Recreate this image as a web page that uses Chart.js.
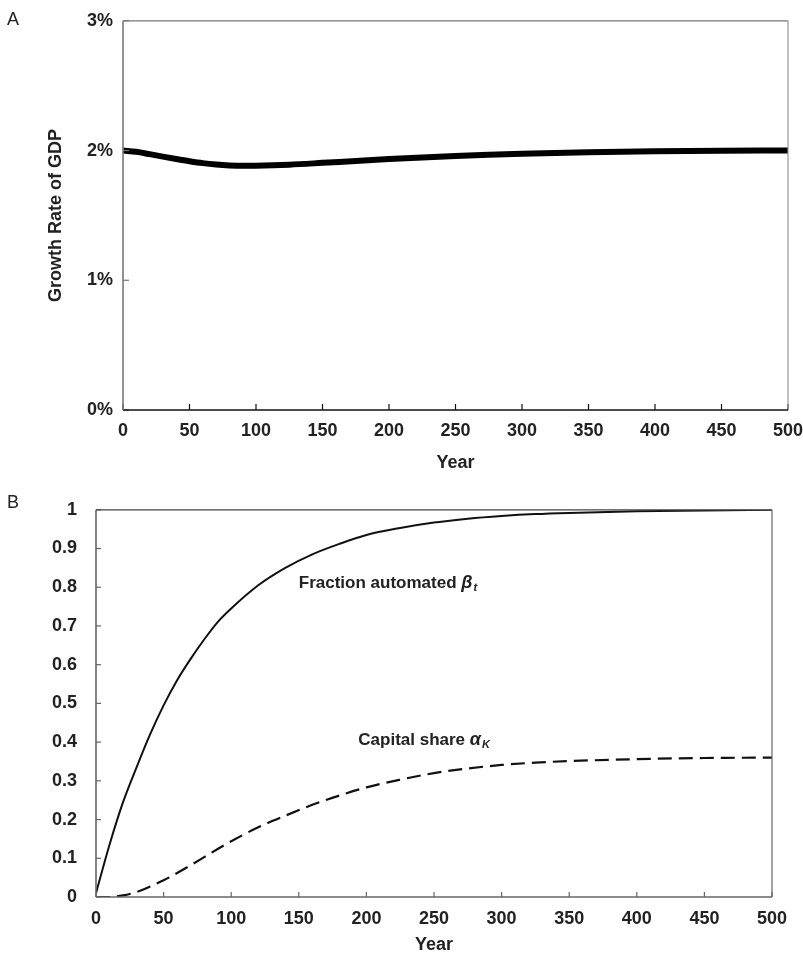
<!DOCTYPE html>
<html>
<head>
<meta charset="UTF-8">
<title>GDP growth and automation</title>
<script src="https://cdn.jsdelivr.net/npm/chart.js"></script>
<style>
    html, body { margin: 0; padding: 0; background: #fff; }
    #wrap { position: relative; width: 803px; height: 956px; }
    canvas { position: absolute; left: 0; }
    #chartA { top: 0; }
    #chartB { top: 480px; }
    .panel { position: absolute; left: 7px; font: 18px "Liberation Sans", Arial, sans-serif; color: #222; line-height: 20px; }
</style>
</head>
<body>
<div id="wrap">
    <canvas id="chartA" width="803" height="480"></canvas>
    <canvas id="chartB" width="803" height="476"></canvas>
    <div class="panel" style="top:9px">A</div>
    <div class="panel" style="top:492px">B</div>
</div>

<script>
    // panel A: growth rate of GDP (percent)
    const yearsA = [0, 10, 20, 30, 40, 50, 60, 70, 80, 90, 100, 125, 150, 175, 200, 225, 250, 275, 300, 350, 400, 450, 500];
    const gdpGrowth = [2.0, 1.99, 1.972, 1.953, 1.935, 1.918, 1.903, 1.892, 1.885, 1.882, 1.883, 1.891, 1.905, 1.92, 1.934, 1.947, 1.958, 1.967, 1.975, 1.987, 1.995, 1.999, 2.0];

    // panel B: fraction automated and capital share
    const yearsB = [0, 10, 20, 30, 40, 50, 60, 70, 80, 90, 100, 120, 140, 160, 180, 200, 225, 250, 275, 300, 325, 350, 400, 450, 500];
    const fractionAutomated = [0.01, 0.135, 0.245, 0.335, 0.42, 0.495, 0.56, 0.615, 0.665, 0.71, 0.745, 0.805, 0.85, 0.885, 0.912, 0.935, 0.953, 0.967, 0.977, 0.984, 0.989, 0.992, 0.996, 0.998, 1.0];
    const capitalShare = [0, 0.0, 0.004, 0.013, 0.027, 0.043, 0.062, 0.082, 0.103, 0.124, 0.144, 0.18, 0.21, 0.238, 0.262, 0.283, 0.303, 0.32, 0.332, 0.341, 0.347, 0.351, 0.356, 0.359, 0.36];

    const yTicksA = ['0%', '1%', '2%', '3%'];

    const FONT = '"Liberation Sans", Arial, sans-serif';
    Chart.defaults.font.family = FONT;
    Chart.defaults.color = '#222';

    function toPoints(xs, ys) {
        return xs.map((x, i) => ({ x: x, y: ys[i] }));
    }

    // frame round the plot area and short inward tick marks
    const framePlugin = {
        id: 'frame',
        afterDatasetsDraw(chart, args, opts) {
            const { ctx, chartArea: a } = chart;
            const line = (x1, y1, x2, y2, c, w) => {
                ctx.strokeStyle = c;
                ctx.lineWidth = w;
                ctx.beginPath();
                ctx.moveTo(x1, y1);
                ctx.lineTo(x2, y2);
                ctx.stroke();
            };
            ctx.save();
            const xs = chart.scales.x, ys = chart.scales.y;
            xs.ticks.forEach((t, i) => {
                const px = xs.getPixelForTick(i);
                line(px, a.bottom, px, a.bottom - opts.tickLen, opts.bottom, 1.2);
            });
            ys.ticks.forEach((t, i) => {
                const py = ys.getPixelForTick(i);
                line(a.left, py, a.left + opts.tickLen, py, opts.left, 1.2);
            });
            line(a.left, a.top, a.right, a.top, opts.top, 1.2);
            line(a.right, a.top, a.right, a.bottom, opts.right, 1.2);
            line(a.left, a.bottom, a.right, a.bottom, opts.bottom, 1.6);
            line(a.left, a.top, a.left, a.bottom, opts.left, 1.6);
            ctx.restore();
        }
    };

    // curve names in panel B
    const curveLabels = {
        id: 'curveLabels',
        afterDatasetsDraw(chart, args, opts) {
            if (!opts.items) return;
            const { ctx } = chart;
            const xs = chart.scales.x, ys = chart.scales.y;
            ctx.save();
            ctx.fillStyle = '#222';
            ctx.textBaseline = 'middle';
            ctx.textAlign = 'left';
            opts.items.forEach(it => {
                let x = xs.getPixelForValue(it.x);
                const y = ys.getPixelForValue(it.y);
                ctx.font = 'bold 17px ' + FONT;
                ctx.fillText(it.text, x, y);
                x += ctx.measureText(it.text).width;
                ctx.font = 'italic bold 18px ' + FONT;
                ctx.fillText(it.greek, x, y);
                x += ctx.measureText(it.greek).width + 1;
                ctx.font = 'italic bold 11px ' + FONT;
                ctx.fillText(it.sub, x, y + 5);
            });
            ctx.restore();
        }
    };

    const tickFont = { size: 18, weight: 'bold' };

    new Chart(document.getElementById('chartA'), {
        type: 'line',
        data: {
            datasets: [{
                data: toPoints(yearsA, gdpGrowth),
                borderColor: '#000',
                borderWidth: 6,
                pointRadius: 0,
                cubicInterpolationMode: 'monotone',
                borderCapStyle: 'butt'
            }]
        },
        options: {
            responsive: false,
            animation: false,
            layout: { padding: { top: 19, right: 15, left: 0, bottom: 0 } },
            plugins: {
                legend: { display: false },
                tooltip: { enabled: false },
                frame: { tickLen: 6, left: '#777', bottom: '#111', top: '#777', right: '#999' }
            },
            scales: {
                x: {
                    type: 'linear', min: 0, max: 500,
                    grid: { display: false, drawTicks: false },
                    border: { display: false },
                    ticks: { stepSize: 50, padding: 10, font: tickFont, maxRotation: 0, autoSkip: false },
                    title: { display: true, text: 'Year', font: { size: 18, weight: 'bold' }, padding: { top: 0, bottom: 6 } },
                    afterFit: s => { s.height = 70; s.paddingRight = 0; s.paddingLeft = 0; }
                },
                y: {
                    min: 0, max: 3,
                    grid: { display: false, drawTicks: false },
                    border: { display: false },
                    ticks: { stepSize: 1, padding: 10, font: tickFont, callback: (v) => yTicksA[v] },
                    title: { display: true, text: 'Growth Rate of GDP', font: { size: 18, weight: 'bold' }, padding: { top: 45, bottom: 0 } },
                    afterFit: s => { s.width = 123; }
                }
            }
        },
        plugins: [framePlugin]
    });

    new Chart(document.getElementById('chartB'), {
        type: 'line',
        data: {
            datasets: [{
                label: 'Fraction automated',
                data: toPoints(yearsB, fractionAutomated),
                borderColor: '#111',
                borderWidth: 2,
                pointRadius: 0,
                cubicInterpolationMode: 'monotone'
            }, {
                label: 'Capital share',
                data: toPoints(yearsB, capitalShare),
                borderColor: '#111',
                borderWidth: 2.2,
                borderDash: [14, 7],
                pointRadius: 0,
                cubicInterpolationMode: 'monotone'
            }]
        },
        options: {
            responsive: false,
            animation: false,
            layout: { padding: { top: 22, right: 31, left: 0, bottom: 0 } },
            plugins: {
                legend: { display: false },
                tooltip: { enabled: false },
                frame: { tickLen: 5, left: '#666', bottom: '#666', top: '#444', right: '#666' },
                curveLabels: {
                    items: [
                        { x: 150, y: 0.81, text: 'Fraction automated ', greek: 'β', sub: 't' },
                        { x: 194, y: 0.405, text: 'Capital share ', greek: 'α', sub: 'K' }
                    ]
                }
            },
            scales: {
                x: {
                    type: 'linear', min: 0, max: 500,
                    grid: { display: false, drawTicks: false },
                    border: { display: false },
                    ticks: { stepSize: 50, padding: 11, font: tickFont, maxRotation: 0, autoSkip: false },
                    title: { display: true, text: 'Year', font: { size: 18, weight: 'bold' }, padding: { top: 0, bottom: 0 } },
                    afterFit: s => { s.height = 59; s.paddingRight = 0; s.paddingLeft = 0; }
                },
                y: {
                    min: 0, max: 1,
                    grid: { display: false, drawTicks: false },
                    border: { display: false },
                    ticks: { stepSize: 0.1, padding: 19, font: tickFont, callback: (v) => Math.round(v * 10) / 10 },
                    afterFit: s => { s.width = 96; }
                }
            }
        },
        plugins: [framePlugin, curveLabels]
    });
</script>
</body>
</html>
